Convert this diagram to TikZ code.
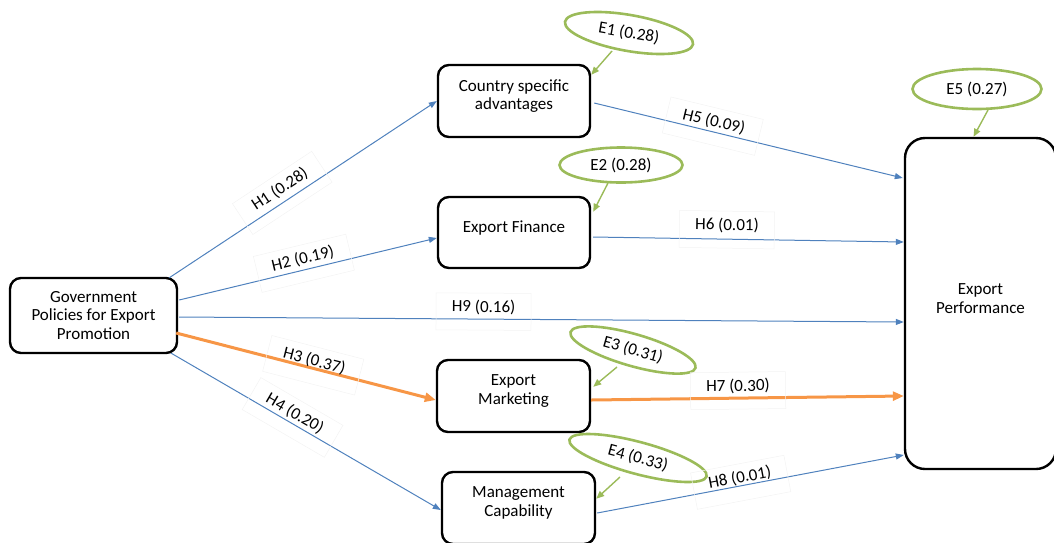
\documentclass[tikz,border=0pt]{standalone}
\usepackage{fontspec}
\setmainfont{Carlito}
\usetikzlibrary{arrows.meta,calc,shapes.geometric}
\definecolor{pathblue}{HTML}{4F81BD}
\definecolor{pathorange}{HTML}{F79646}
\definecolor{errgreen}{HTML}{9BBB59}
\definecolor{faint}{HTML}{F3F3F3}
\begin{document}
\begin{tikzpicture}[x=1pt,y=-1pt,
  txt/.style={font=\fontsize{17}{18.5}\selectfont},
  construct/.style={draw=black,line width=2.4pt,rounded corners=11pt,
    inner sep=0pt,minimum width=152pt,minimum height=71pt},
  caption/.style={txt,align=center,inner sep=0pt},
  err/.style={txt,draw=errgreen,line width=2.6pt,ellipse,inner sep=0pt},
  link/.style={draw=pathblue,line width=1pt,-{Triangle[length=8pt,width=6pt]}},
  strong/.style={draw=pathorange,line width=3pt,-{Triangle[length=11pt,width=9pt]}},
  errlink/.style={draw=errgreen,line width=1.4pt,-{Triangle[length=8pt,width=6.5pt]}},
  lab/.style={txt,sloped,anchor=base,inner sep=1pt},
  frame/.style={sloped,anchor=base,inner sep=2pt,draw=faint,line width=0.5pt,
    minimum width=95pt,text height=17pt,text depth=16pt}
]
\useasboundingbox (0,0) rectangle (1054,542);

% constructs
\node[construct,minimum width=167pt,minimum height=75pt] (gov) at (93.5,315.5) {};
\node[caption] (gov-t) at (gov.center) {Government\\Policies for Export\\Promotion};
\node[construct,minimum height=72pt] (csa) at (514,101) {};
\node[caption] (csa-t) at ($(csa.center)+(0,-5)$) {Country specific\\advantages};
\node[construct] (fin) at (514,232.5) {};
\node[caption] (fin-t) at ($(fin.center)+(0,-4)$) {Export Finance};
\node[construct,minimum width=153pt,minimum height=72pt] (mkt) at (513.5,396) {};
\node[caption] (mkt-t) at ($(mkt.center)+(0,-5)$) {Export\\Marketing};
\node[construct,minimum width=153pt,minimum height=72pt] (mgt) at (518.5,508) {};
\node[caption] (mgt-t) at ($(mgt.center)+(0,-5)$) {Management\\Capability};
\node[construct,rounded corners=20pt,minimum width=151pt,minimum height=331pt] (perf) at (980.5,303.5) {};
\node[caption] (perf-t) at ($(perf.center)+(0,-5)$) {Export\\Performance};

% error terms
\node[err,minimum width=130pt,minimum height=36pt,rotate=-10] (e1) at (629,33) {E1 (0.28)};
\node[err,minimum width=123pt,minimum height=35pt] (e2) at (621,165) {E2 (0.28)};
\node[err,minimum width=130pt,minimum height=32pt,rotate=-16] (e3) at (633,350) {E3 (0.31)};
\node[err,minimum width=142pt,minimum height=32pt,rotate=-15] (e4) at (638,458) {E4 (0.33)};
\node[err,minimum width=129pt,minimum height=40pt] (e5) at (977,89) {E5 (0.27)};

% structural paths, each label in a faint text frame
\draw[link] ($(gov.north east)+(-9,1)$) -- (csa.west)
  node[frame,pos=0.44,yshift=8pt] (f1) {}
  node[lab,pos=0.44,yshift=8pt] (h1) {H1 (0.28)};
\draw[link] ($(gov.east)+(1,-15.5)$) -- ($(fin.west)+(0,5.5)$)
  node[frame,pos=0.49,yshift=6pt] (f2) {}
  node[lab,pos=0.49,yshift=6pt] (h2) {H2 (0.19)};
\draw[link] ($(gov.east)+(1,1.5)$) -- ($(perf.west)+(0,18.5)$)
  node[frame,pos=0.42,yshift=7pt] (f9) {}
  node[lab,pos=0.42,yshift=7pt] (h9) {H9 (0.16)};
\draw[strong] ($(gov.east)+(-2,17.5)$) -- ($(mkt.west)+(0,4)$)
  node[frame,pos=0.525,yshift=2.5pt] (f3) {}
  node[lab,pos=0.525,yshift=2.5pt] (h3) {H3 (0.37)};
\draw[link] ($(gov.south east)+(-7,-1)$) -- ($(mgt.west)+(0,2)$)
  node[frame,pos=0.44,yshift=5pt] (f4) {}
  node[lab,pos=0.44,yshift=5pt] (h4) {H4 (0.20)};
\draw[link] ($(csa.east)+(3,2)$) -- ($(perf.west)+(-1,-125.5)$)
  node[frame,pos=0.38,yshift=5pt] (f5) {}
  node[lab,pos=0.38,yshift=5pt] (h5) {H5 (0.09)};
\draw[link] ($(fin.east)+(2,4.5)$) -- ($(perf.west)+(0,-61.5)$)
  node[frame,pos=0.43,yshift=9pt] (f6) {}
  node[lab,pos=0.43,yshift=9pt] (h6) {H6 (0.01)};
\draw[strong] ($(mkt.east)+(0,4)$) -- ($(perf.west)+(0,92.5)$)
  node[frame,pos=0.47,yshift=7pt] (f7) {}
  node[lab,pos=0.47,yshift=7pt] (h7) {H7 (0.30)};
\draw[link] ($(mgt.east)+(1,5)$) -- ($(perf.west)+(0,151.5)$)
  node[frame,pos=0.47,yshift=3pt] (f8) {}
  node[lab,pos=0.47,yshift=3pt] (h8) {H8 (0.01)};

% error arrows
\draw[errlink] ($(e1.center)+(-17,18)$) -- ($(csa.north east)+(0,11)$);
\draw[errlink] ($(e2.center)+(-13,18)$) -- ($(fin.north east)+(2,16)$);
\draw[errlink] ($(e3.center)+(-16,17)$) -- ($(mkt.north east)+(2,28)$);
\draw[errlink] ($(e4.center)+(-18,19)$) -- ($(mgt.north east)+(0,28)$);
\draw[errlink] ($(e5.center)+(11,21)$) -- ($(perf.north)+(-7,0)$);
\end{tikzpicture}
\end{document}
